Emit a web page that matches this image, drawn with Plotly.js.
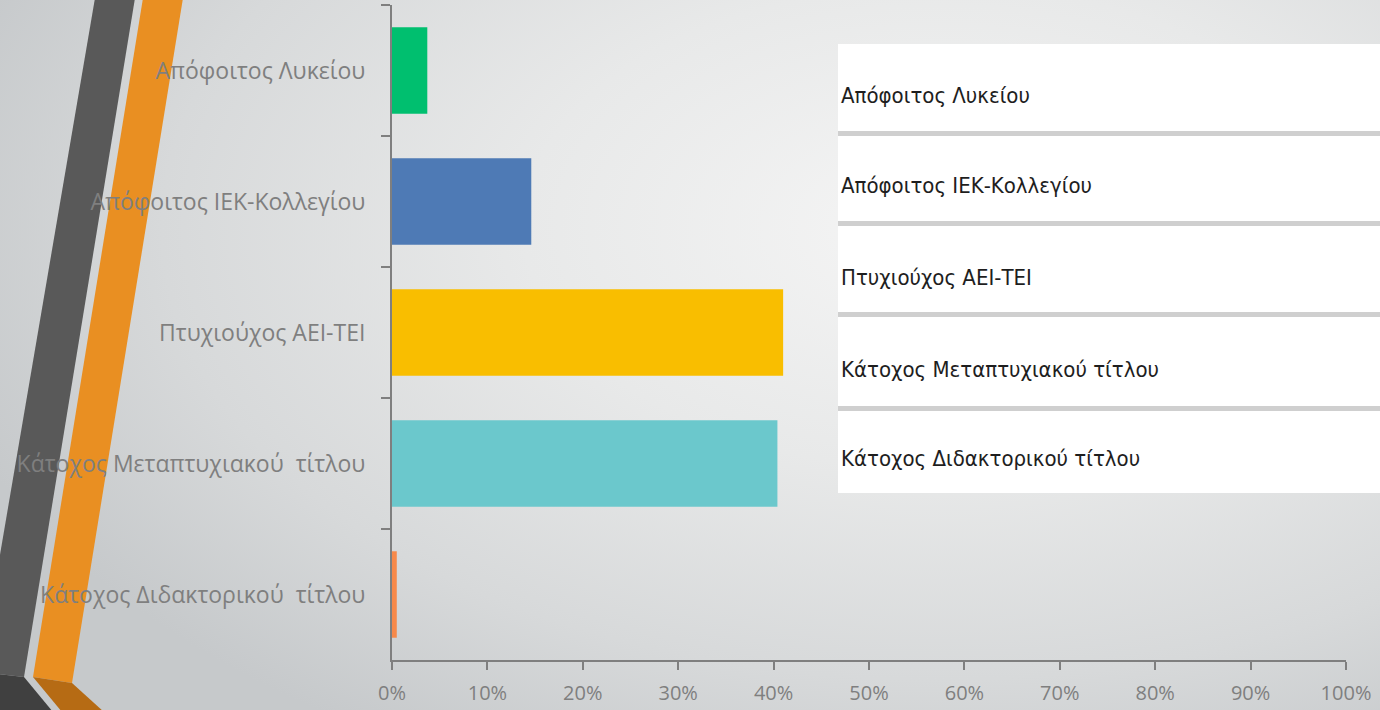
<!DOCTYPE html>
<html>
<head>
<meta charset="utf-8">
<script src="https://cdn.plot.ly/plotly-3.0.1.min.js"></script>
<style>
  html, body { margin: 0; padding: 0; }
  #chart {
    width: 1380px; height: 710px;
    background: radial-gradient(ellipse 75% 85% at 68% 32%, #f5f5f5 0%, #e8e9e9 40%, #d7d9da 75%, #c6c9cb 100%);
  }
</style>
</head>
<body>
<div id="chart"></div>
<script>
// ---- data ----
const categories = [
  "Απόφοιτος Λυκείου",
  "Απόφοιτος ΙΕΚ-Κολλεγίου",
  "Πτυχιούχος ΑΕΙ-ΤΕΙ",
  "Κάτοχος Μεταπτυχιακού\u00a0 τίτλου",
  "Κάτοχος Διδακτορικού\u00a0 τίτλου"
];
const legendLabels = [
  "Απόφοιτος Λυκείου",
  "Απόφοιτος ΙΕΚ-Κολλεγίου",
  "Πτυχιούχος ΑΕΙ-ΤΕΙ",
  "Κάτοχος Μεταπτυχιακού τίτλου",
  "Κάτοχος Διδακτορικού τίτλου"
];
const percentages = [3.7, 14.6, 41.0, 40.4, 0.5];
const barColors = ["#00BF6F", "#4E7AB5", "#F9BE00", "#6BC8CC", "#F7894A"];
const xTicks = [0, 10, 20, 30, 40, 50, 60, 70, 80, 90, 100];

// ---- geometry helpers (pixel -> paper) for decorations ----
const W = 1380, H = 710;
const M = {l: 392, r: 34, t: 5, b: 50};
const PW = W - M.l - M.r, PH = H - M.t - M.b;
const px = x => (x - M.l) / PW;
const py = y => (H - M.b - y) / PH;
const path = pts => "M" + pts.map(p => px(p[0]).toFixed(5) + "," + py(p[1]).toFixed(5)).join(" L") + " Z";

const shapes = [
  // left decorative stripes
  {type: "path", xref: "paper", yref: "paper", layer: "below", line: {width: 0}, fillcolor: "#595959",
   path: path([[95, -2], [135, -2], [24, 677], [-20, 672]])},
  {type: "path", xref: "paper", yref: "paper", layer: "below", line: {width: 0}, fillcolor: "#404040",
   path: path([[-20, 672], [24, 677], [53, 712], [-20, 712]])},
  {type: "path", xref: "paper", yref: "paper", layer: "below", line: {width: 0}, fillcolor: "#E98F22",
   path: path([[143, -2], [183, -2], [72, 683], [33, 677]])},
  {type: "path", xref: "paper", yref: "paper", layer: "below", line: {width: 0}, fillcolor: "#B66B14",
   path: path([[33, 677], [72, 683], [104, 712], [62, 712]])},
  // white table on the right
  {type: "rect", xref: "paper", yref: "paper", layer: "below", line: {width: 0}, fillcolor: "#ffffff",
   x0: px(838), x1: px(1382), y0: py(44), y1: py(493)}
];
[133, 223, 314, 408].forEach(y => {
  shapes.push({type: "rect", xref: "paper", yref: "paper", layer: "below", line: {width: 0},
    fillcolor: "#cfcfcf", x0: px(838), x1: px(1382), y0: py(y - 2), y1: py(y + 3)});
});

const rowY = [95, 185, 277, 370, 458];
const annotations = legendLabels.map((t, i) => ({
  text: t, xref: "paper", yref: "paper", x: px(839), y: py(rowY[i]),
  xanchor: "left", yanchor: "middle", showarrow: false,
  font: {family: "Liberation Sans Narrow, DejaVu Sans Condensed, Arial Narrow, sans-serif", size: 22, color: "#1e1e1e"}
}));

const trace = {
  type: "bar", orientation: "h",
  y: categories, x: percentages,
  marker: {color: barColors, line: {width: 0}},
  hoverinfo: "x+y", showlegend: false
};

const yFont = {family: "Open Sans, DejaVu Sans, sans-serif", size: 23, color: "#7f7f7f"};
const xFont = {family: "Open Sans, DejaVu Sans, sans-serif", size: 20, color: "#7f7f7f"};

const layout = {
  width: W, height: H,
  margin: M,
  paper_bgcolor: "rgba(0,0,0,0)",
  plot_bgcolor: "rgba(0,0,0,0)",
  bargap: 0.34,
  showlegend: false,
  xaxis: {
    range: [0, 100], tickvals: xTicks, ticktext: xTicks.map(v => v + "%"),
    showgrid: false, zeroline: false,
    showline: true, linecolor: "#7f7f7f", linewidth: 2,
    ticks: "outside", ticklen: 8, tickwidth: 2, tickcolor: "#7f7f7f",
    tickfont: xFont, ticklabelstandoff: 6, fixedrange: true
  },
  yaxis: {
    type: "category", autorange: "reversed",
    showgrid: false, zeroline: false,
    showline: true, linecolor: "#7f7f7f", linewidth: 2,
    ticks: "outside", tickson: "boundaries", ticklen: 9, tickwidth: 2, tickcolor: "#7f7f7f",
    tickfont: yFont, ticklabelstandoff: 20, fixedrange: true
  },
  shapes: shapes,
  annotations: annotations
};

Plotly.newPlot("chart", [trace], layout, {displayModeBar: false, staticPlot: true});
</script>
</body>
</html>
